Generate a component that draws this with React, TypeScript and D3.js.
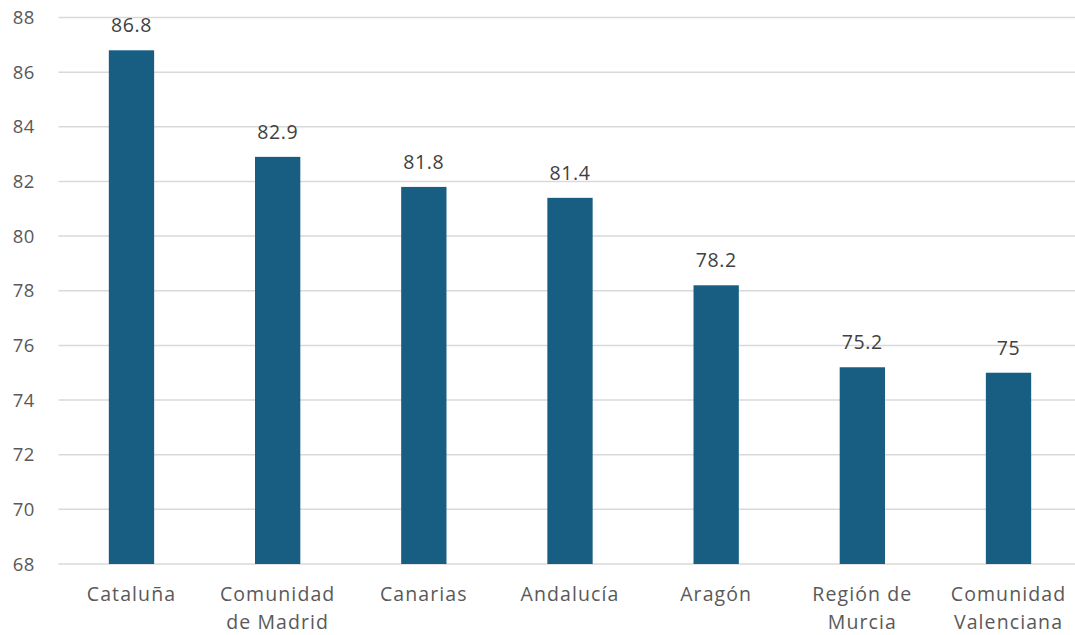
import React from "react";
import * as d3 from "d3";

const categories: string[][] = [
  ["Cataluña"],
  ["Comunidad", "de Madrid"],
  ["Canarias"],
  ["Andalucía"],
  ["Aragón"],
  ["Región de", "Murcia"],
  ["Comunidad", "Valenciana"],
];
const values: number[] = [86.8, 82.9, 81.8, 81.4, 78.2, 75.2, 75];
const valueLabels: string[] = ["86.8", "82.9", "81.8", "81.4", "78.2", "75.2", "75"];
const yTicks: number[] = [68, 70, 72, 74, 76, 78, 80, 82, 84, 86, 88];

const W = 1075;
const H = 635;
const left = 58.4;
const right = 1081.6;
const top = 17.5;
const bottom = 564;
const FONT = "'Open Sans', sans-serif";

export default function App() {
  const x = d3
    .scaleBand<number>()
    .domain(values.map((_, i) => i))
    .range([left, right])
    .paddingInner(0.69)
    .paddingOuter(0.345);
  const y = d3.scaleLinear().domain([68, 88]).range([bottom, top]);
  const bw = x.bandwidth();

  return (
    <svg
      width={W}
      height={H}
      style={{ position: "absolute", left: 0, top: 0, background: "#fff" }}
    >
      {yTicks.map((t) => (
        <g key={t}>
          <line x1={left} x2={right} y1={y(t)} y2={y(t)} stroke="#d9d9d9" strokeWidth={1.5} />
          <text
            x={35}
            y={y(t)}
            dy="0.36em"
            textAnchor="end"
            fontFamily={FONT}
            fontSize={18.5}
            letterSpacing={0.6}
            fill="#595959"
          >
            {t}
          </text>
        </g>
      ))}
      {values.map((v, i) => {
        const cx = (x(i) as number) + bw / 2;
        return (
          <g key={i}>
            <rect x={x(i)} y={y(v)} width={bw} height={y(68) - y(v)} fill="#175e82" />
            <text
              x={cx}
              y={y(v) - 18}
              textAnchor="middle"
              fontFamily={FONT}
              fontSize={19.5}
              letterSpacing={0.6}
              fill="#404040"
            >
              {valueLabels[i]}
            </text>
            {categories[i].map((line, j) => (
              <text
                key={j}
                x={cx}
                y={601 + j * 27.5}
                textAnchor="middle"
                fontFamily={FONT}
                fontSize={19.5}
                letterSpacing={1.1}
                fill="#595959"
              >
                {line}
              </text>
            ))}
          </g>
        );
      })}
    </svg>
  );
}
